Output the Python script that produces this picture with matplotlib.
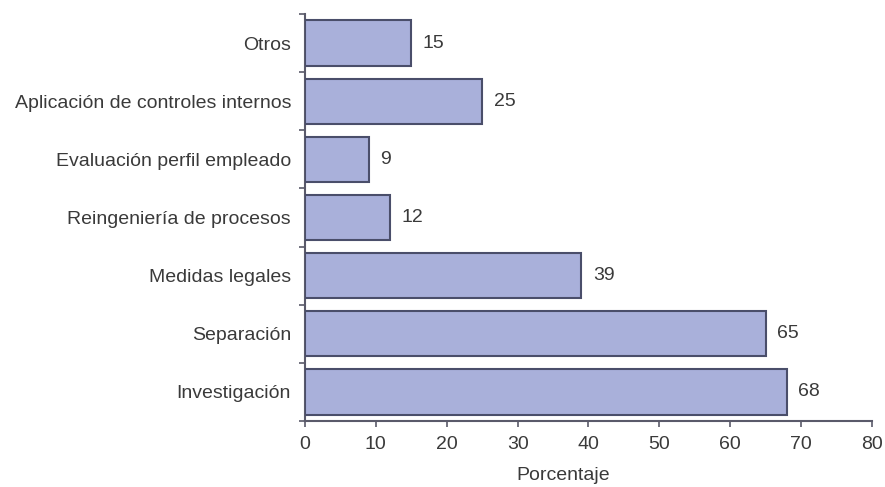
import matplotlib
matplotlib.use("Agg")
from matplotlib import pyplot as plt
import numpy as np

categories = ["Investigación", "Separación", "Medidas legales", "Reingeniería de procesos",
              "Evaluación perfil empleado", "Aplicación de controles internos", "Otros"]
values = [68, 65, 39, 12, 9, 25, 15]
x_ticks = [0, 10, 20, 30, 40, 50, 60, 70, 80]

plt.rcParams["font.family"] = ["Liberation Sans", "DejaVu Sans"]
text_color = "#3a3a3a"
axis_color = "#5a5a6a"
fs = 14

fig = plt.figure(figsize=(8.85, 4.87), dpi=100)
ax = fig.add_axes([0.3446, 0.1355, 0.6407, 0.8358])

pos = np.arange(len(categories))
ax.barh(pos, values, height=0.78, color="#a9b0da", edgecolor="#4a4e6a", linewidth=1.5, zorder=3)

for p, v in zip(pos, values):
    ax.text(v + 1.6, p, str(v), va="center", ha="left", fontsize=fs, color=text_color)

ax.set_xlim(0, 80)
ax.set_ylim(-0.5, len(categories) - 0.5)
ax.set_xticks(x_ticks)
ax.set_xticklabels([str(t) for t in x_ticks], fontsize=fs, color=text_color)
ax.set_yticks(pos)
ax.set_yticklabels(categories, fontsize=fs, color=text_color)
ax.set_yticks(np.arange(len(categories) + 1) - 0.5, minor=True)
ax.tick_params(axis="y", which="major", length=0, pad=10)
ax.tick_params(axis="y", which="minor", length=4, width=1.2, direction="out", color=axis_color)
ax.tick_params(axis="x", length=4, width=1.2, direction="out", color=axis_color, pad=7)

for s in ["top", "right"]:
    ax.spines[s].set_visible(False)
for s in ["left", "bottom"]:
    ax.spines[s].set_color(axis_color)
    ax.spines[s].set_linewidth(1.5)

ax.set_xlabel("Porcentaje", fontsize=fs, color=text_color)
ax.xaxis.set_label_coords(0.455, -0.112)

fig.savefig("out.png", dpi=100)
